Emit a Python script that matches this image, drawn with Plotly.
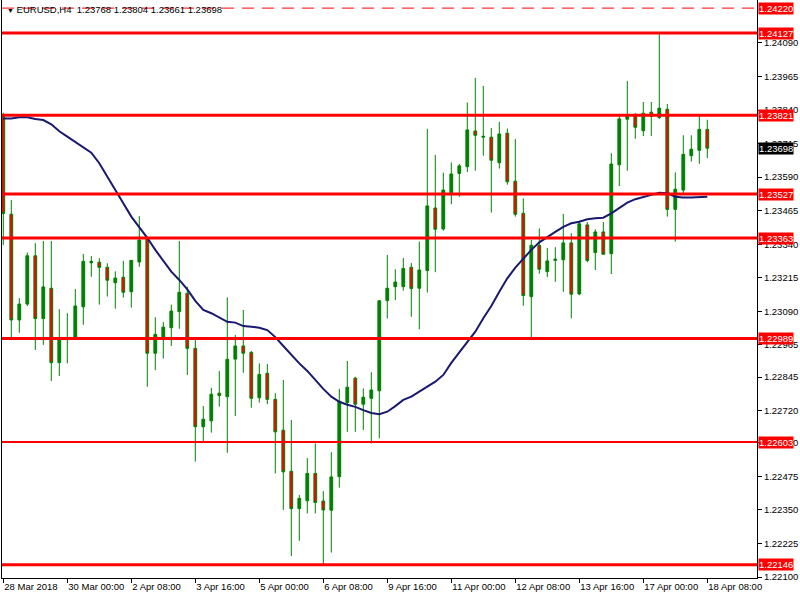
import plotly.graph_objects as go

# ---------------- data ----------------
bar_index = list(range(89))

opens = [1.23817, 1.23452, 1.23058, 1.23117, 1.23297, 1.23063, 1.23176, 1.22899, 1.22986, 1.22992,
         1.23107, 1.23271, 1.23273, 1.23254, 1.23197, 1.23217, 1.23163, 1.23274, 1.23362, 1.22934,
         1.22991, 1.23029, 1.23089, 1.23157, 1.22952, 1.22660, 1.22682, 1.22785, 1.22772, 1.22912,
         1.22961, 1.22937, 1.22768, 1.22859, 1.22762, 1.22647, 1.22494, 1.22355, 1.22384, 1.22486,
         1.22383, 1.22349, 1.22474, 1.22750, 1.22841, 1.22744, 1.22766, 1.22794, 1.23130, 1.23182,
         1.23182, 1.23254, 1.23176, 1.23242, 1.23475, 1.23397, 1.23532, 1.23604, 1.23629, 1.23762,
         1.23739, 1.23739, 1.23644, 1.23754, 1.23575, 1.23455, 1.23145, 1.23336, 1.23238, 1.23280,
         1.23282, 1.23345, 1.23155, 1.23412, 1.23309, 1.23386, 1.23305, 1.23636, 1.23806, 1.23819,
         1.23763, 1.23832, 1.23812, 1.23843, 1.23470, 1.23542, 1.23670, 1.23690, 1.23768]

highs = [1.23830, 1.23505, 1.23139, 1.23309, 1.23344, 1.23352, 1.23352, 1.23098, 1.23083, 1.23173,
         1.23304, 1.23296, 1.23288, 1.23269, 1.23239, 1.23278, 1.23281, 1.23445, 1.23368, 1.23068,
         1.23050, 1.23115, 1.23352, 1.23182, 1.22983, 1.22737, 1.22805, 1.22868, 1.23142, 1.23002,
         1.23095, 1.22942, 1.22896, 1.22894, 1.22785, 1.22834, 1.22685, 1.22406, 1.22543, 1.22598,
         1.22420, 1.22565, 1.22801, 1.22905, 1.22846, 1.22803, 1.22863, 1.23132, 1.23300, 1.23247,
         1.23289, 1.23270, 1.23350, 1.23770, 1.23673, 1.23607, 1.23645, 1.23639, 1.23868, 1.23960,
         1.23930, 1.23773, 1.23796, 1.23771, 1.23732, 1.23511, 1.23356, 1.23399, 1.23326, 1.23329,
         1.23453, 1.23381, 1.23428, 1.23423, 1.23396, 1.23423, 1.23679, 1.23825, 1.23948, 1.23829,
         1.23870, 1.23870, 1.24131, 1.23863, 1.23608, 1.23746, 1.23746, 1.23821, 1.23804]

lows = [1.23337, 1.22990, 1.23010, 1.23110, 1.22946, 1.22965, 1.22830, 1.22849, 1.22896, 1.22988,
        1.23040, 1.23219, 1.23115, 1.23145, 1.23100, 1.23141, 1.23104, 1.23256, 1.22809, 1.22871,
        1.22914, 1.22961, 1.23025, 1.22853, 1.22530, 1.22600, 1.22638, 1.22735, 1.22563, 1.22700,
        1.22861, 1.22731, 1.22750, 1.22744, 1.22486, 1.22350, 1.22178, 1.22235, 1.22337, 1.22337,
        1.22145, 1.22191, 1.22433, 1.22641, 1.22641, 1.22648, 1.22598, 1.22617, 1.23063, 1.23132,
        1.23167, 1.23070, 1.23023, 1.23160, 1.23236, 1.23391, 1.23489, 1.23517, 1.23609, 1.23614,
        1.23670, 1.23458, 1.23622, 1.23562, 1.23443, 1.23111, 1.22986, 1.23230, 1.23218, 1.23200,
        1.23163, 1.23064, 1.23150, 1.23273, 1.23244, 1.23300, 1.23229, 1.23557, 1.23614, 1.23733,
        1.23743, 1.23743, 1.23807, 1.23443, 1.23350, 1.23526, 1.23648, 1.23640, 1.23661]

closes = [1.23455, 1.23058, 1.23117, 1.23297, 1.23063, 1.23181, 1.22899, 1.22992, 1.22992, 1.23110,
          1.23276, 1.23276, 1.23254, 1.23206, 1.23214, 1.23161, 1.23280, 1.23356, 1.22934, 1.23004,
          1.23031, 1.23091, 1.23161, 1.22952, 1.22660, 1.22688, 1.22781, 1.22776, 1.22911, 1.22961,
          1.22934, 1.22766, 1.22855, 1.22762, 1.22641, 1.22492, 1.22355, 1.22393, 1.22486, 1.22378,
          1.22350, 1.22473, 1.22755, 1.22807, 1.22744, 1.22770, 1.22797, 1.23129, 1.23176, 1.23199,
          1.23250, 1.23175, 1.23244, 1.23483, 1.23396, 1.23542, 1.23602, 1.23632, 1.23766, 1.23746,
          1.23742, 1.23653, 1.23751, 1.23573, 1.23452, 1.23149, 1.23336, 1.23247, 1.23278, 1.23284,
          1.23345, 1.23154, 1.23416, 1.23279, 1.23386, 1.23303, 1.23639, 1.23807, 1.23819, 1.23776,
          1.23828, 1.23817, 1.23847, 1.23470, 1.23545, 1.23675, 1.23694, 1.23768, 1.23698]

moving_avg = [1.23809, 1.23809, 1.23813, 1.23813, 1.23807, 1.23803, 1.23787, 1.23761, 1.23741, 1.23721,
              1.23700, 1.23681, 1.23642, 1.23594, 1.23545, 1.23493, 1.23443, 1.23403, 1.23364, 1.23319,
              1.23279, 1.23238, 1.23207, 1.23172, 1.23129, 1.23095, 1.23083, 1.23068, 1.23051, 1.23048,
              1.23035, 1.23033, 1.23029, 1.23020, 1.22994, 1.22961, 1.22927, 1.22896, 1.22868, 1.22834,
              1.22801, 1.22772, 1.22753, 1.22742, 1.22734, 1.22722, 1.22711, 1.22707, 1.22716, 1.22737,
              1.22760, 1.22772, 1.22791, 1.22809, 1.22828, 1.22853, 1.22898, 1.22937, 1.22974, 1.23014,
              1.23064, 1.23110, 1.23163, 1.23213, 1.23253, 1.23288, 1.23319, 1.23347, 1.23368, 1.23386,
              1.23405, 1.23418, 1.23424, 1.23433, 1.23437, 1.23439, 1.23455, 1.23476, 1.23495, 1.23508,
              1.23517, 1.23524, 1.23532, 1.23530, 1.23517, 1.23514, 1.23514, 1.23516, 1.23517]

time_tick_pos = [0, 8, 16, 24, 32, 40, 48, 56, 64, 72, 80, 88]
time_tick_text = ["28 Mar 2018", "30 Mar 00:00", "2 Apr 08:00", "3 Apr 16:00", "5 Apr 00:00",
                  "6 Apr 08:00", "9 Apr 16:00", "11 Apr 00:00", "12 Apr 08:00", "13 Apr 16:00",
                  "17 Apr 00:00", "18 Apr 08:00"]

price_ticks = [1.24090, 1.23965, 1.23840, 1.23715, 1.23590, 1.23465, 1.23340, 1.23215, 1.23090,
               1.22965, 1.22845, 1.22720, 1.22600, 1.22475, 1.22350, 1.22225, 1.22100]

level_prices = [1.24127, 1.23821, 1.23527, 1.23363, 1.22989, 1.22603, 1.22146]
dashed_level = 1.24220
last_price = 1.23698
header = "EURUSD,H4  1.23768 1.23804 1.23661 1.23698"

# ---------------- style ----------------
GREEN = "#008000"
RED = "#FF0000"
MA_COLOR = "#191970"
FONT = "Liberation Sans, Arial, sans-serif"
FS = 9.5
thin_levels = {1.22603}

fig = go.Figure()

fig.add_trace(go.Candlestick(
    x=bar_index, open=opens, high=highs, low=lows, close=closes,
    increasing=dict(line=dict(color=GREEN, width=1), fillcolor=GREEN),
    decreasing=dict(line=dict(color=GREEN, width=1), fillcolor=RED),
    whiskerwidth=0, hoverinfo="skip", showlegend=False,
))

fig.add_trace(go.Scatter(
    x=bar_index, y=moving_avg, mode="lines",
    line=dict(color=MA_COLOR, width=2), hoverinfo="skip", showlegend=False,
))

shapes = []
annotations = []
for p in level_prices:
    shapes.append(dict(type="line", xref="paper", x0=0, x1=1, yref="y", y0=p, y1=p,
                       line=dict(color=RED, width=2 if p in thin_levels else 3), layer="above"))
    annotations.append(dict(xref="paper", x=1, xanchor="left", xshift=1, yref="y", y=p,
                            yanchor="middle", text=f"{p:.5f}", showarrow=False,
                            bgcolor=RED, font=dict(color="white", size=FS, family=FONT),
                            borderpad=0))

shapes.append(dict(type="line", xref="paper", x0=0, x1=1, yref="y", y0=dashed_level, y1=dashed_level,
                   line=dict(color=RED, width=1, dash="12px,8px"), layer="above"))
annotations.append(dict(xref="paper", x=1, xanchor="left", xshift=1, yref="y", y=dashed_level,
                        yanchor="middle", text=f"{dashed_level:.5f}", showarrow=False,
                        bgcolor=RED, font=dict(color="white", size=FS, family=FONT), borderpad=0))

annotations.append(dict(xref="paper", x=1, xanchor="left", xshift=1, yref="y", y=last_price,
                        yanchor="middle", text=f"{last_price:.5f}", showarrow=False,
                        bgcolor="black", font=dict(color="white", size=FS, family=FONT), borderpad=0))

annotations.append(dict(xref="paper", x=0, xanchor="left", xshift=3, yref="paper", y=1,
                        yanchor="top", yshift=-2,
                        text="<span style='font-size:7px'>▼</span> " + header,
                        showarrow=False, font=dict(color="black", size=FS, family=FONT)))

fig.update_layout(
    width=800, height=600,
    margin=dict(l=2, r=43, t=0, b=22, autoexpand=False),
    paper_bgcolor="white", plot_bgcolor="white",
    boxgap=0.5,
    shapes=shapes, annotations=annotations,
    xaxis=dict(range=[-0.1625, 94.2125], rangeslider=dict(visible=False),
               showgrid=False, zeroline=False, showline=True, linecolor="black", linewidth=1,
               tickmode="array", tickvals=time_tick_pos, ticktext=time_tick_text,
               ticks="outside", ticklen=4, tickcolor="black",
               ticklabelposition="outside right", automargin=False,
               tickfont=dict(color="black", size=FS, family=FONT)),
    yaxis=dict(range=[1.220963, 1.242502], side="right",
               showgrid=False, zeroline=False, showline=True, mirror=True,
               linecolor="black", linewidth=1, automargin=False,
               tickmode="array", tickvals=price_ticks, ticktext=[f"{v:.5f}" for v in price_ticks],
               ticks="outside", ticklen=4, tickcolor="black",
               tickfont=dict(color="black", size=FS, family=FONT)),
)

fig.write_html("out.html", config={"displayModeBar": False},
               post_script="document.body.style.margin='0';")
